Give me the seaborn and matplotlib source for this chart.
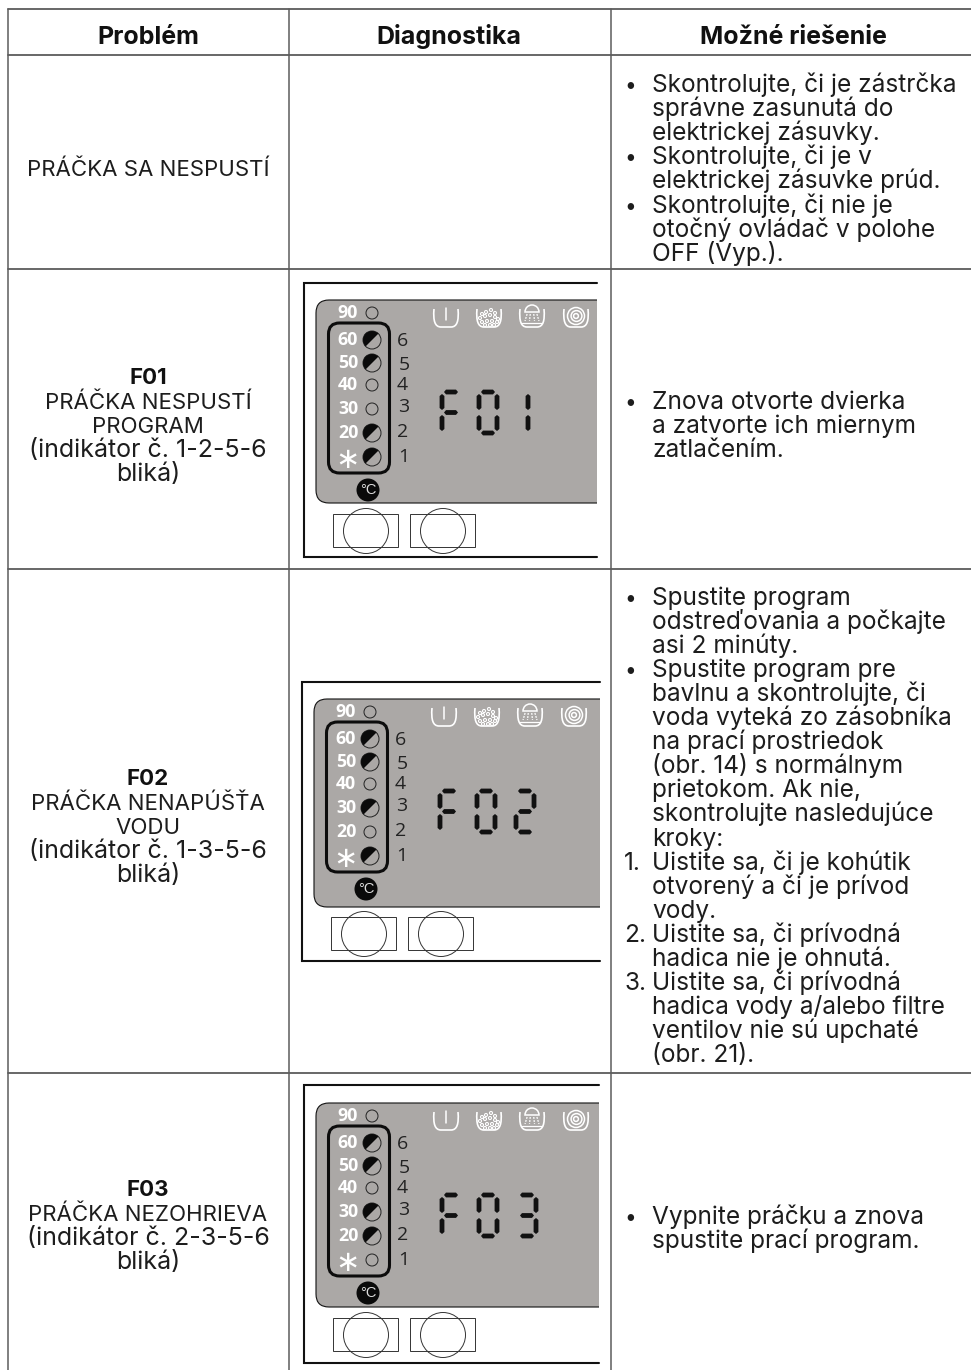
import numpy as np
import seaborn as sns
from matplotlib import pyplot as plt
from matplotlib.patches import Circle, FancyBboxPatch, PathPatch, Rectangle, Wedge
from matplotlib.path import Path

# table texts
headers = ["Problém", "Diagnostika", "Možné riešenie"]

problem_codes = ["", "F01", "F02", "F03"]
problem_lines = [
    ["PRÁČKA SA NESPUSTÍ"],
    ["PRÁČKA NESPUSTÍ", "PROGRAM", "(indikátor č. 1-2-5-6", "bliká)"],
    ["PRÁČKA NENAPÚŠŤA", "VODU", "(indikátor č. 1-3-5-6", "bliká)"],
    ["PRÁČKA NEZOHRIEVA", "(indikátor č. 2-3-5-6", "bliká)"],
]

# marker, text
solution_row1 = [("•", "Skontrolujte, či je zástrčka"), ("", "správne zasunutá do"), ("", "elektrickej zásuvky."),
                 ("•", "Skontrolujte, či je v"), ("", "elektrickej zásuvke prúd."),
                 ("•", "Skontrolujte, či nie je"), ("", "otočný ovládač v polohe"), ("", "OFF (Vyp.).")]
solution_row2 = [("•", "Znova otvorte dvierka"), ("", "a zatvorte ich miernym"), ("", "zatlačením.")]
solution_row3 = [("•", "Spustite program"), ("", "odstreďovania a počkajte"), ("", "asi 2 minúty."),
                 ("•", "Spustite program pre"), ("", "bavlnu a skontrolujte, či"), ("", "voda vyteká zo zásobníka"),
                 ("", "na prací prostriedok"), ("", "(obr. 14) s normálnym"), ("", "prietokom. Ak nie,"),
                 ("", "skontrolujte nasledujúce"), ("", "kroky:"),
                 ("1.", "Uistite sa, či je kohútik"), ("", "otvorený a či je prívod"), ("", "vody."),
                 ("2.", "Uistite sa, či prívodná"), ("", "hadica nie je ohnutá."),
                 ("3.", "Uistite sa, či prívodná"), ("", "hadica vody a/alebo filtre"),
                 ("", "ventilov nie sú upchaté"), ("", "(obr. 21).")]
solution_row4 = [("•", "Vypnite práčku a znova"), ("", "spustite prací program.")]

# display panels
temp_labels = ["90", "60", "50", "40", "30", "20", "*"]
led_numbers = ["", "6", "5", "4", "3", "2", "1"]
panel_codes = ["F01", "F02", "F03"]
panel_blinking = [["60", "50", "20", "*"], ["60", "50", "30", "*"], ["60", "50", "30", "20"]]

FONT = "Inter"
TXT = "#1d1d1d"
PANEL = "#aba8a6"
FS = 17.6
FS_CAPS = 16.0
FS_LOWER = 18.0

sns.set_theme(style="white")
plt.rcParams["font.family"] = [FONT, "DejaVu Sans"]

fig = plt.figure(figsize=(9.71, 13.70), dpi=100)
ax = fig.add_axes([0, 0, 1, 1])
ax.set_xlim(0, 971)
ax.set_ylim(1370, 0)
ax.axis("off")

# table rules
for y in [9, 55, 269, 569, 1072.7]:
    ax.plot([8, 971], [y, y], color="#5c5c5c", lw=1.3)
for x in [8, 288.5, 610.5]:
    ax.plot([x, x], [9, 1370], color="#5c5c5c", lw=1.1)

for x, h in zip([148, 449, 793], headers):
    ax.text(x, 44, h, ha="center", va="baseline", fontsize=18, fontweight="bold", color="#111111")


def centre_text(lines, y0, step=24.0):
    for i, s in enumerate(lines):
        size = FS_CAPS if s.isupper() else FS_LOWER
        ax.text(148, y0 + i * step, s, ha="center", va="baseline", fontsize=size, color=TXT)


centre_text(problem_lines[0], 176)
for code, lines, y0 in zip(problem_codes[1:], problem_lines[1:], [384, 785, 1196]):
    ax.text(148, y0, code, ha="center", va="baseline", fontsize=FS_CAPS, fontweight="bold", color="#111111")
    centre_text(lines, y0 + 25)


def solution_text(rows, y0, step):
    for i, (mark, s) in enumerate(rows):
        y = y0 + i * step
        if mark == "•":
            ax.text(624, y, mark, ha="left", va="baseline", fontsize=15, color=TXT)
        elif mark:
            ax.text(624, y, mark, ha="left", va="baseline", fontsize=FS, color=TXT)
        ax.text(652, y, s, ha="left", va="baseline", fontsize=FS, color=TXT)


solution_text(solution_row1, 92, 24.1)
solution_text(solution_row2, 409, 24.1)
solution_text(solution_row3, 605, 24.05)
solution_text(solution_row4, 1224, 24.0)

# seven segment layout inside one digit cell
SEGMENTS = {"a": ((3, 0), (17, 0)), "b": ((19, 2), (19, 18)), "c": ((19, 23), (19, 39)),
            "d": ((3, 41), (17, 41)), "e": ((1, 23), (1, 39)), "f": ((1, 2), (1, 18)), "g": ((3, 20.5), (17, 20.5))}
DIGITS = {"F": "afeg", "0": "abcdef", "1": "bc", "2": "abged", "3": "abgcd"}


def seven_seg(ch, x0, y0):
    for key in DIGITS[ch]:
        (xa, ya), (xb, yb) = SEGMENTS[key]
        w = 2.4
        if ya == yb:
            xs = [xa, xa + 2, xb - 2, xb, xb - 2, xa + 2]
            ys = [ya, ya - w, ya - w, ya, ya + w, ya + w]
        else:
            xs = [xa, xa + w, xa + w, xa, xa - w, xa - w]
            ys = [ya, ya + 2, yb - 2, yb, yb - 2, ya + 2]
        ax.fill(np.array(xs) + x0, np.array(ys) + y0, color="#111111", lw=0)


def bowl(xc, yc):
    verts = [(xc - 12, yc - 9), (xc - 13, yc + 3), (xc - 11, yc + 9), (xc - 5, yc + 9),
             (xc + 5, yc + 9), (xc + 11, yc + 9), (xc + 13, yc + 3), (xc + 12, yc - 9)]
    codes = [Path.MOVETO, Path.CURVE4, Path.CURVE4, Path.CURVE4, Path.LINETO, Path.CURVE4, Path.CURVE4, Path.CURVE4]
    ax.add_patch(PathPatch(Path(verts, codes), fc="none", ec="white", lw=1.2))


def icons(ox, oy):
    # on/off
    bowl(446 + ox, 318 + oy)
    ax.plot([446 + ox, 446 + ox], [308 + oy, 320 + oy], color="white", lw=1.1)
    # wash
    bowl(489 + ox, 318 + oy)
    for dx, dy in [(-7, -4), (-3, -6), (2, -8), (6, -5), (-9, 0), (-4, -2), (1, -3), (6, -1), (9, 1),
                   (-7, 4), (-2, 3), (3, 3), (8, 4), (-4, 7), (1, 7), (5, 7)]:
        ax.add_patch(Circle((489 + ox + dx, 318 + oy + dy), 1.5, fc=PANEL, ec="white", lw=0.8))
    # rinse
    bowl(532 + ox, 318 + oy)
    ax.add_patch(Wedge((532 + ox, 312 + oy), 7, 180, 360, fc=PANEL, ec="white", lw=1.1))
    for dx in [-7, -2.5, 2.5, 7]:
        ax.plot([532 + ox + dx * 0.7, 532 + ox + dx], [314 + oy, 321 + oy], color="white", lw=0.9, ls=(0, (1.5, 1)))
    ax.plot([522 + ox, 542 + ox], [323 + oy, 323 + oy], color="white", lw=0.9)
    # spin
    bowl(576 + ox, 318 + oy)
    for r, dx in [(8.5, 0), (5.4, 0.5), (2.4, 0)]:
        ax.add_patch(Circle((576 + ox + dx, 316 + oy), r, fc=PANEL, ec="white", lw=1.1))


def panel(code, blinking, ox, oy, frame_top, frame_bottom, frame_right, panel_h, btn_dy):
    # outer black frame, open on the right
    ax.plot([frame_right, 304 + ox, 304 + ox, frame_right], [frame_top, frame_top, frame_bottom, frame_bottom],
            color="#111111", lw=1.5, solid_joinstyle="miter")
    clip = Rectangle((300 + ox, 290 + oy), frame_right - 300 - ox, 230, transform=ax.transData)
    p = FancyBboxPatch((316 + ox, 300 + oy), 320, panel_h, boxstyle="round,pad=0,rounding_size=13",
                       fc=PANEL, ec="#111111", lw=0.8)
    ax.add_patch(p)
    p.set_clip_path(clip)
    ax.add_patch(FancyBboxPatch((328.5 + ox, 323 + oy), 61, 150, boxstyle="round,pad=0,rounding_size=11",
                                fc="none", ec="#0c0c0c", lw=2.2))

    label_y = [313, 340, 363, 385, 409, 433, 457]
    num_y = [0, 341, 365, 385, 407, 432, 457]
    num_x = [0, 403, 404, 402, 404, 403, 404]
    for lab, y, num, ny, nx in zip(temp_labels, label_y, led_numbers, num_y, num_x):
        if lab == "*":
            ax.text(347 + ox, y + 3 + oy, "∗", ha="center", va="center", fontsize=21, color="white",
                    family="DejaVu Sans")
        else:
            ax.text(348 + ox, y + oy, lab, ha="center", va="center", fontsize=12.8, color="white",
                    family="Open Sans", fontweight="bold")
        r = 6 if lab not in blinking else 9
        ax.add_patch(Circle((372 + ox, y + oy), r, fc="none", ec="#222222", lw=0.7))
        if lab in blinking:
            ax.add_patch(Wedge((372 + ox, y + oy), 9, 135, 315, fc="#0a0a0a", ec="none"))
        if num:
            ax.text(nx + ox, ny + oy, num, ha="center", va="center", fontsize=14, color="#222222", family="Open Sans")

    ax.add_patch(Circle((368 + ox, 490 + oy), 11.5, fc="#0a0a0a", ec="none"))
    ax.text(368 + ox, 490 + oy, "°C", ha="center", va="center", fontsize=10.5, color="#dddddd", family="Liberation Sans")

    icons(ox, oy)

    for i, ch in enumerate(code):
        if i == 2:
            x0 = 509 if ch == "1" else 517
        else:
            x0 = [441, 478][i]
        seven_seg(ch, x0 + ox, 392 + oy)

    for rx, cx in [(333, 366), (410, 443)]:
        ax.add_patch(Rectangle((rx + ox, 514 + oy + btn_dy), 65, 33, fc="none", ec="#333333", lw=0.7))
        ax.add_patch(Circle((cx + ox, 531 + oy + btn_dy), 22.5, fc="none", ec="#333333", lw=0.7))


panel(panel_codes[0], panel_blinking[0], 0, 0, 283, 557, 597, 203, 0)
panel(panel_codes[1], panel_blinking[1], -2, 399, 682, 961, 600, 208, 4)
panel(panel_codes[2], panel_blinking[2], 0, 803, 1085, 1363, 599, 204, 1)

sns.despine(ax=ax, left=True, bottom=True)
fig.savefig("out.png", dpi=100)
